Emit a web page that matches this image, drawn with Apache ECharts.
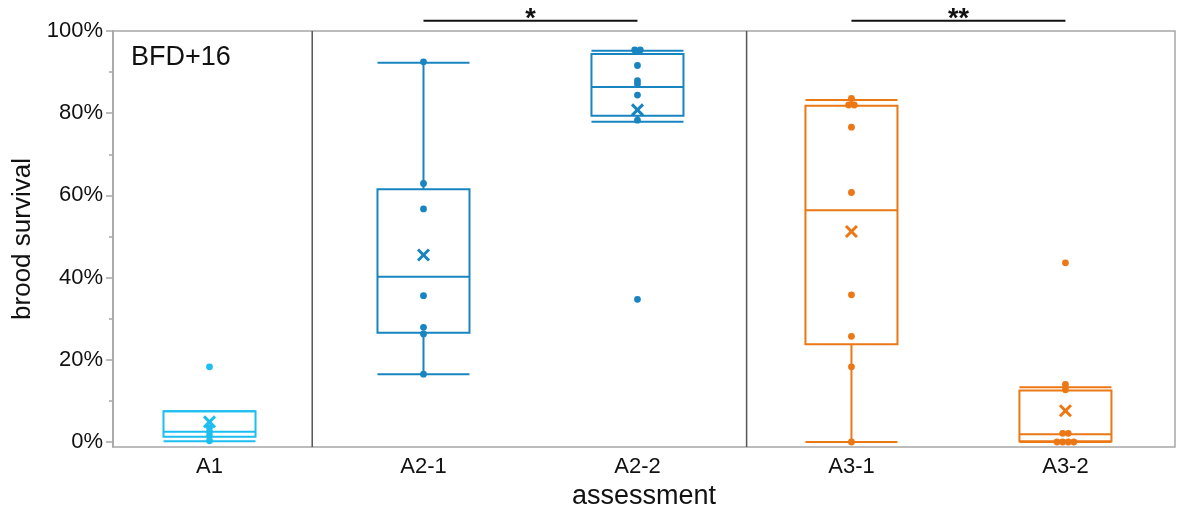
<!DOCTYPE html>
<html>
<head>
<meta charset="utf-8">
<script src="https://cdn.jsdelivr.net/npm/echarts@6/dist/echarts.min.js"></script>
<style>
html,body{margin:0;padding:0;background:#fff;}
#chart{width:1178px;height:507px;}
</style>
</head>
<body>
<div id="chart"></div>
<script>
// ---- data ----
const categories = ['A1', 'A2-1', 'A2-2', 'A3-1', 'A3-2'];
const groupOf = [0, 1, 1, 2, 2];
const groupColors = ['#1EBEF0', '#1884C0', '#EB7814'];
const pointsA1  = [18.3, 3.5, 2.5, 1.5, 0.3];
const pointsA21 = [92.5, 62.9, 56.7, 35.6, 27.9, 26.3, 16.5];
const pointsA22 = [95.4, 95.4, 91.6, 87.9, 87.1, 84.4, 78.3, 34.7];
const pointsA31 = [83.6, 82.0, 82.0, 76.6, 60.7, 35.8, 25.7, 18.3, 0];
const pointsA32 = [43.6, 14.0, 12.7, 2.1, 2.1, 0, 0, 0, 0];
const whiskerLow  = [0.2, 16.5, 77.9, 0, 0];
const q1          = [1.3, 26.6, 79.4, 23.8, 0.2];
const median      = [2.5, 40.2, 86.4, 56.4, 1.9];
const q3          = [7.5, 61.5, 94.4, 81.8, 12.5];
const whiskerHigh = [7.5, 92.3, 95.2, 83.2, 13.3];
const means       = [4.9, 45.5, 80.8, 51.2, 7.6];
const groupBreaks = [0.48, 2.51];
const sigPairs = [[1, 2, '*'], [3, 4, '**']];
const yMajorTicks = [0, 20, 40, 60, 80, 100];
const yMinorTicks = [10, 30, 50, 70, 90];

const allPoints = [pointsA1, pointsA21, pointsA22, pointsA31, pointsA32];
const FONT = 'Liberation Sans, Arial, sans-serif';

// point data with jitter slot for coincident values
const pointData = [];
allPoints.forEach((vals, ci) => {
  const used = new Array(vals.length).fill(false);
  vals.forEach((v, i) => {
    if (used[i]) return;
    const grp = [];
    vals.forEach((w, j) => { if (!used[j] && Math.abs(w - v) < 0.5) { grp.push(j); used[j] = true; } });
    grp.forEach((j, k) => pointData.push([ci, vals[j], k - (grp.length - 1) / 2]));
  });
});

const boxData = categories.map((c, i) => [i, whiskerLow[i], q1[i], median[i], q3[i], whiskerHigh[i]]);
const meanData = categories.map((c, i) => [i, means[i]]);

const chart = echarts.init(document.getElementById('chart'), null, {renderer: 'canvas'});
const option = {
  animation: false,
  textStyle: {fontFamily: FONT},
  title: {text: 'BFD+16', left: 126, top: 39, textStyle: {fontFamily: FONT, fontSize: 27, fontWeight: 'normal', color: '#111'}},
  grid: {left: 113, top: 31, width: 1062, height: 416, outerBoundsMode: 'none', containLabel: false,
         show: true, borderColor: '#a6a6a6', borderWidth: 1.5, backgroundColor: 'transparent'},
  xAxis: {
    type: 'value', min: -0.451, max: 4.512,
    axisLine: {show: false, onZero: false}, axisTick: {show: false}, splitLine: {show: false},
    axisLabel: {customValues: [0, 1, 2, 3, 4], formatter: v => categories[Math.round(v)], fontSize: 22, color: '#111', margin: 9, fontFamily: FONT},
    name: 'assessment', nameLocation: 'middle', nameGap: 34,
    nameTextStyle: {fontSize: 27, color: '#111', fontFamily: FONT}
  },
  yAxis: [{
    type: 'value', min: -1.22, max: 100,
    axisLine: {show: true, onZero: false, lineStyle: {color: '#a6a6a6', width: 1.5}},
    axisTick: {show: true, customValues: yMajorTicks, length: 7, lineStyle: {color: '#a6a6a6', width: 1.5}},
    splitLine: {show: false},
    axisLabel: {customValues: yMajorTicks, formatter: v => v + '%', fontSize: 22, color: '#111', margin: 10, padding: [4, 0, 0, 0], fontFamily: FONT},
    name: 'brood survival', nameLocation: 'middle', nameGap: 72, nameRotate: 90,
    nameTextStyle: {fontSize: 26, color: '#111', fontFamily: FONT}
  }, {
    type: 'value', min: -1.22, max: 100, position: 'left', offset: 0,
    axisLine: {show: false, onZero: false}, splitLine: {show: false}, axisLabel: {show: false},
    axisTick: {show: true, customValues: yMinorTicks, length: 4, lineStyle: {color: '#a6a6a6', width: 1.5}}
  }],
  series: [
    {
      type: 'custom', name: 'breaks', z: 1,
      data: groupBreaks.map(x => [x]),
      renderItem: (params, api) => {
        const p1 = api.coord([api.value(0), 100]);
        const top = params.coordSys.y, bottom = params.coordSys.y + params.coordSys.height;
        return {type: 'line', shape: {x1: p1[0], y1: top, x2: p1[0], y2: bottom}, style: {stroke: '#555', lineWidth: 1.5}};
      }
    },
    {
      type: 'custom', name: 'boxes', z: 2,
      data: boxData,
      renderItem: (params, api) => {
        const i = api.value(0);
        const col = groupColors[groupOf[i]];
        const w = api.size([1, 0])[0] * 0.43;
        const lo = api.coord([i, api.value(1)]), b1 = api.coord([i, api.value(2)]);
        const md = api.coord([i, api.value(3)]), b3 = api.coord([i, api.value(4)]);
        const hi = api.coord([i, api.value(5)]);
        const cx = lo[0], x0 = cx - w / 2, x1 = cx + w / 2;
        const st = {stroke: col, lineWidth: 2, fill: null};
        return {type: 'group', children: [
          {type: 'line', shape: {x1: cx, y1: hi[1], x2: cx, y2: b3[1]}, style: st},
          {type: 'line', shape: {x1: cx, y1: b1[1], x2: cx, y2: lo[1]}, style: st},
          {type: 'line', shape: {x1: x0, y1: hi[1], x2: x1, y2: hi[1]}, style: st},
          {type: 'line', shape: {x1: x0, y1: lo[1], x2: x1, y2: lo[1]}, style: st},
          {type: 'rect', shape: {x: x0, y: b3[1], width: w, height: b1[1] - b3[1]}, style: {stroke: col, lineWidth: 2, fill: 'none'}},
          {type: 'line', shape: {x1: x0, y1: md[1], x2: x1, y2: md[1]}, style: st}
        ]};
      }
    },
    {
      type: 'custom', name: 'points', z: 3,
      data: pointData,
      renderItem: (params, api) => {
        const i = api.value(0);
        const p = api.coord([i, api.value(1)]);
        return {type: 'circle', shape: {cx: p[0] + api.value(2) * 5.6, cy: p[1], r: 3.4}, style: {fill: groupColors[groupOf[i]]}};
      }
    },
    {
      type: 'custom', name: 'means', z: 4,
      data: meanData,
      renderItem: (params, api) => {
        const i = api.value(0);
        const p = api.coord([i, api.value(1)]);
        const s = 5.5, col = groupColors[groupOf[i]];
        const st = {stroke: col, lineWidth: 3};
        return {type: 'group', children: [
          {type: 'line', shape: {x1: p[0] - s, y1: p[1] - s, x2: p[0] + s, y2: p[1] + s}, style: st},
          {type: 'line', shape: {x1: p[0] - s, y1: p[1] + s, x2: p[0] + s, y2: p[1] - s}, style: st}
        ]};
      }
    },
    {
      type: 'custom', name: 'significance', z: 5, clip: false,
      data: sigPairs,
      renderItem: (params, api) => {
        const a = api.coord([api.value(0), 102.5]);
        const b = api.coord([api.value(1), 102.5]);
        return {type: 'group', children: [
          {type: 'line', shape: {x1: a[0], y1: a[1], x2: b[0], y2: a[1]}, style: {stroke: '#111', lineWidth: 2}},
          {type: 'text', x: (a[0] + b[0]) / 2, y: a[1] + 12, style: {text: sigPairs[params.dataIndex][2], fill: '#111', font: 'bold 27px ' + FONT, align: 'center', verticalAlign: 'bottom'}}
        ]};
      }
    }
  ]
};
chart.setOption(option);
</script>
</body>
</html>
